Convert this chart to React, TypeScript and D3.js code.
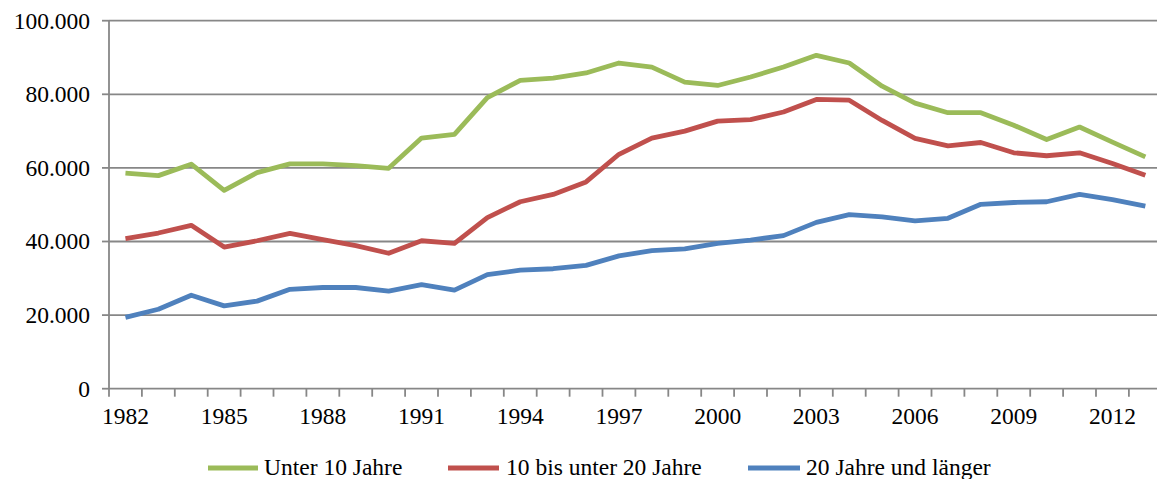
import React from "react";
import * as d3 from "d3";

const years: number[] = [
  1982, 1983, 1984, 1985, 1986, 1987, 1988, 1989, 1990, 1991, 1992, 1993, 1994, 1995, 1996, 1997,
  1998, 1999, 2000, 2001, 2002, 2003, 2004, 2005, 2006, 2007, 2008, 2009, 2010, 2011, 2012, 2013,
];
const unter10: number[] = [
  58.6, 57.9, 61.0, 53.9, 58.7, 61.1, 61.1, 60.6, 59.9, 68.1, 69.1, 79.1, 83.8, 84.4, 85.8, 88.5,
  87.4, 83.3, 82.4, 84.7, 87.4, 90.6, 88.5, 82.2, 77.6, 75.0, 75.0, 71.6, 67.7, 71.1, 67.0, 63.0,
].map((v) => v * 1000);
const bis20: number[] = [
  40.8, 42.3, 44.4, 38.5, 40.2, 42.2, 40.5, 38.9, 36.8, 40.2, 39.5, 46.5, 50.8, 52.8, 56.2, 63.7,
  68.1, 70.0, 72.7, 73.1, 75.2, 78.6, 78.4, 72.9, 68.0, 66.0, 66.9, 64.1, 63.3, 64.1, 61.2, 58.0,
].map((v) => v * 1000);
const ueber20: number[] = [
  19.4, 21.6, 25.4, 22.5, 23.8, 27.0, 27.5, 27.5, 26.5, 28.3, 26.8, 31.0, 32.2, 32.6, 33.5, 36.1,
  37.5, 38.0, 39.5, 40.4, 41.6, 45.2, 47.3, 46.7, 45.6, 46.3, 50.1, 50.6, 50.8, 52.8, 51.4, 49.6,
].map((v) => v * 1000);
const yTicks: number[] = [0, 20000, 40000, 60000, 80000, 100000];
const seriesNames: string[] = ["Unter 10 Jahre", "10 bis unter 20 Jahre", "20 Jahre und länger"];
const seriesColors: string[] = ["#9BBB59", "#C0504D", "#4F81BD"];

const W = 1157;
const H = 479;
const left = 109;
const bandW = 32.9;
const top = 20.7;
const bottom = 388.7;
const FONT = "Liberation Serif, Times New Roman, DejaVu Serif, serif";

export default function App() {
  const x = d3
    .scaleBand<number>()
    .domain(years)
    .range([left, left + bandW * years.length])
    .padding(0);
  const y = d3.scaleLinear().domain([0, 100000]).range([bottom, top]);
  const fmt = (v: number) => (v === 0 ? "0" : d3.format(",")(v).replace(/,/g, "."));
  const line = d3
    .line<number>()
    .x((_, i) => (x(years[i]) as number) + x.bandwidth() / 2)
    .y((d) => y(d));
  const series = [unter10, bis20, ueber20];
  const gridColor = "#878787";
  const legendItems = [
    { x1: 208, x2: 258, tx: 264 },
    { x1: 448, x2: 499, tx: 506 },
    { x1: 748, x2: 800, tx: 806 },
  ];
  const boundaries = years.map((yr) => x(yr) as number).concat([left + bandW * years.length]);
  const textStyle = { fontFamily: FONT, fontSize: "23.5px" };

  return (
    <svg
      width={W}
      height={H}
      style={{ position: "absolute", left: 0, top: 0, background: "#fff", display: "block", fontFamily: FONT }}
    >
      {yTicks.map((t) => (
        <g key={t}>
          {t > 0 && (
            <line x1={left} x2={W + 20} y1={y(t)} y2={y(t)} stroke={gridColor} strokeWidth={1.8} />
          )}
          <line x1={left - 7} x2={left} y1={y(t)} y2={y(t)} stroke={gridColor} strokeWidth={1.8} />
          <text x={90} y={y(t)} dy="0.34em" textAnchor="end" style={textStyle} fill="#000">
            {fmt(t)}
          </text>
        </g>
      ))}
      <line x1={left} x2={left} y1={top} y2={bottom} stroke={gridColor} strokeWidth={1.8} />
      <line x1={left} x2={W + 20} y1={bottom} y2={bottom} stroke={gridColor} strokeWidth={1.8} />
      {boundaries.map((b, i) => (
        <line key={i} x1={b} x2={b} y1={bottom} y2={bottom + 8} stroke={gridColor} strokeWidth={1.8} />
      ))}
      {years.map((yr, i) =>
        i % 3 === 0 ? (
          <text
            key={yr}
            x={(x(yr) as number) + x.bandwidth() / 2}
            y={424}
            textAnchor="middle"
            style={textStyle}
            fill="#000"
          >
            {yr}
          </text>
        ) : null
      )}
      {series.map((s, i) => (
        <path
          key={i}
          d={line(s) as string}
          fill="none"
          stroke={seriesColors[i]}
          strokeWidth={4.8}
          strokeLinejoin="round"
        />
      ))}
      {legendItems.map((l, i) => (
        <g key={i}>
          <line x1={l.x1} x2={l.x2} y1={468} y2={468} stroke={seriesColors[i]} strokeWidth={4.8} />
          <text x={l.tx} y={475} style={textStyle} fill="#000">
            {seriesNames[i]}
          </text>
        </g>
      ))}
    </svg>
  );
}
